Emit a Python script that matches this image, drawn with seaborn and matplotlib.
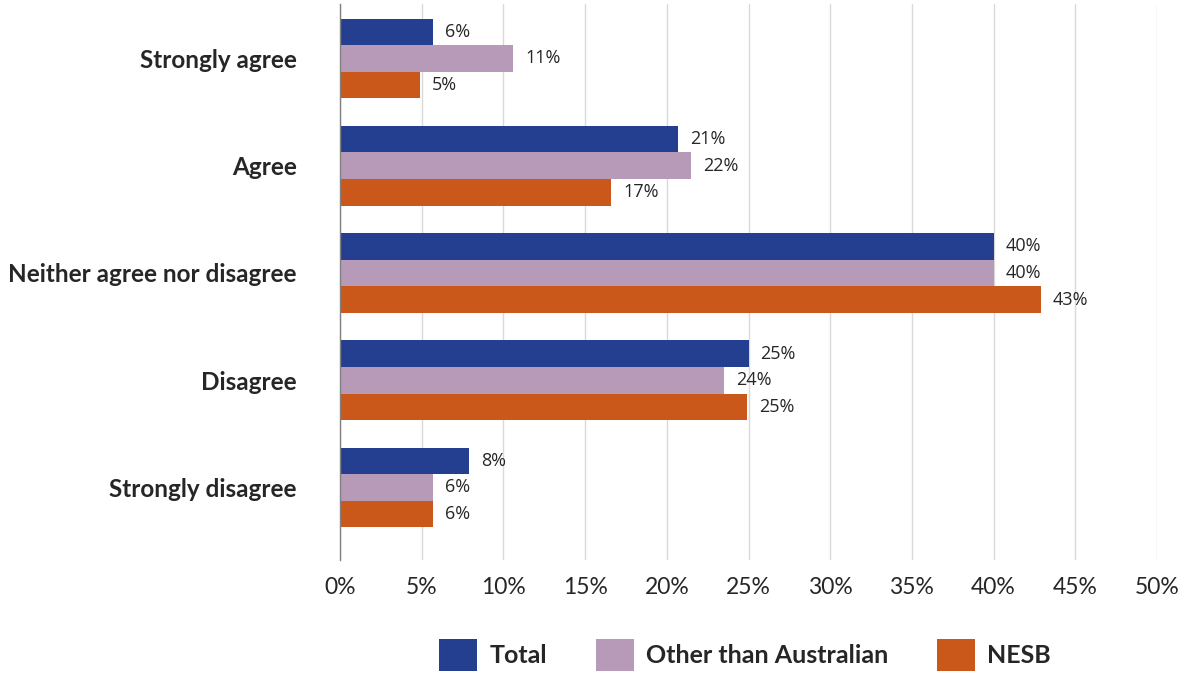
import pandas as pd
import numpy as np
import matplotlib.pyplot as plt
import seaborn as sns
from matplotlib.patches import Patch

categories = ['Strongly agree', 'Agree', 'Neither agree nor disagree', 'Disagree', 'Strongly disagree']
series = ['Total', 'Other than Australian', 'NESB']
total = [5.7, 20.7, 40.0, 25.0, 7.9]
other = [10.6, 21.5, 40.0, 23.5, 5.7]
nesb = [4.9, 16.6, 42.9, 24.9, 5.7]
colors = ['#243F8F', '#B79AB8', '#C9581A']

rows = []
for s, vals in zip(series, [total, other, nesb]):
    for c, v in zip(categories, vals):
        rows.append({'cat': c, 'series': s, 'val': v})
df = pd.DataFrame(rows)

sns.set_style('white')
plt.rcParams['font.family'] = ['Lato', 'DejaVu Sans']

fig = plt.figure(figsize=(11.95, 6.74), dpi=100)
ax = fig.add_axes([340 / 1195, 1 - 560 / 674, 817 / 1195, 556 / 674])

sns.barplot(data=df, y='cat', x='val', hue='series', order=categories, hue_order=series,
            palette=colors, orient='h', width=0.745, gap=0, saturation=1, ax=ax, legend=False,
            linewidth=0, edgecolor='none')

for cont in ax.containers:
    for bar in cont:
        w = bar.get_width()
        ax.text(w + 0.72, bar.get_y() + bar.get_height() / 2, f'{round(w):.0f}%',
                va='center', ha='left', fontsize=13, color='#262626', family=['Open Sans', 'DejaVu Sans'])

ax.set_xlim(0, 50)
ax.set_ylim(4.676, -0.508)
ax.set_xticks(np.arange(0, 51, 5))
ax.set_xticklabels([f'{t}%' for t in range(0, 51, 5)], fontsize=16.5, color='#262626')
ax.set_yticklabels(categories, fontsize=17.5, fontweight='bold', color='#262626')
ax.tick_params(axis='y', length=0, pad=31)
ax.tick_params(axis='x', length=0, pad=12)
ax.xaxis.grid(True, color='#D9D9D9', linewidth=1)
ax.set_axisbelow(True)
ax.set_xlabel('')
ax.set_ylabel('')
for side in ['top', 'right', 'bottom']:
    ax.spines[side].set_visible(False)
ax.spines['left'].set_color('#808080')
ax.spines['left'].set_linewidth(1)

handles = [Patch(facecolor=c, edgecolor='none') for c in colors]
leg = fig.legend(handles, series, loc='center', bbox_to_anchor=(745 / 1195, 1 - 655 / 674), ncol=3,
                 frameon=False, handlelength=1.52, handleheight=1.6, columnspacing=1.96, handletextpad=0.48,
                 prop={'size': 18, 'weight': 'bold'})
for t in leg.get_texts():
    t.set_color('#262626')

fig.savefig('out.png', dpi=100)
